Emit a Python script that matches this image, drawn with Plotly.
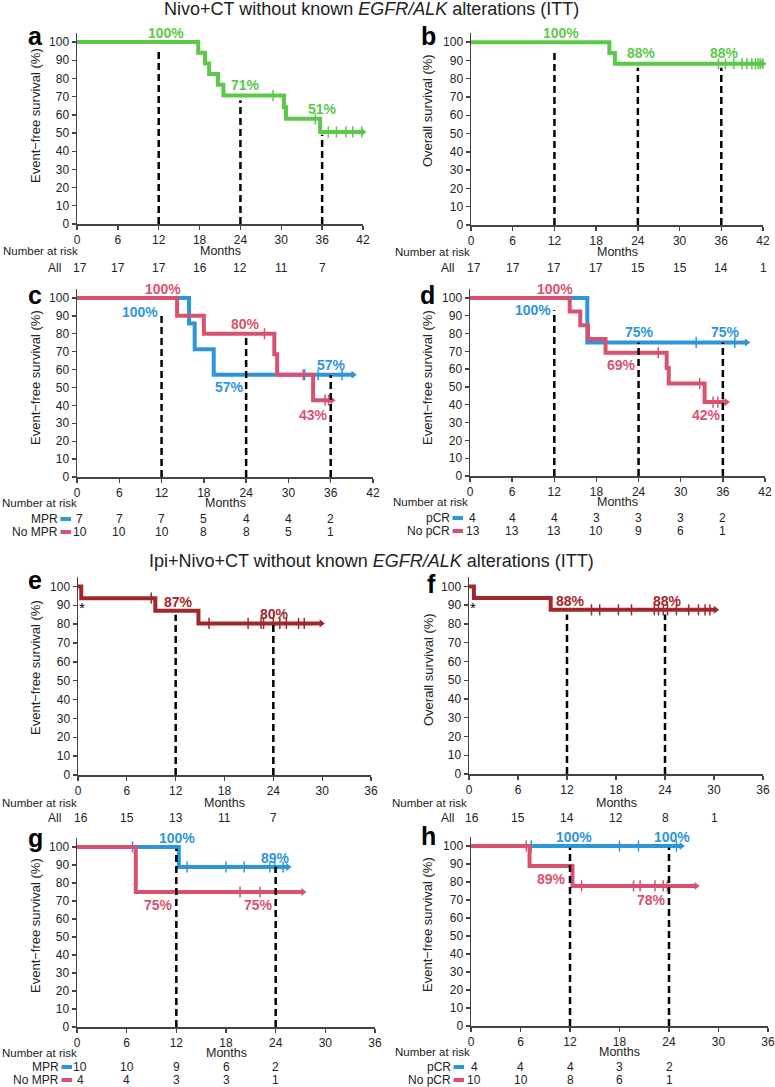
import plotly.graph_objects as go

W, H = 775, 1087
FONT = "Liberation Sans, Arial, sans-serif"
GREEN = "#5cc84a"
BLUE = "#2d95db"
PINK = "#d8526f"
DARKRED = "#a3262b"

# ---------------- data ----------------
# a: Nivo+CT EFS (ITT)
a_times = [0, 17.8, 18.8, 19.4, 20.7, 21.5, 30.4, 30.7, 35.7]
a_surv = [100, 94.1, 88.2, 82.4, 76.5, 70.6, 64.2, 57.8, 50.6]
a_end = 42.0
a_cens = [28.8, 35.0, 36.9, 38.1, 39.5, 40.5, 41.8]
a_risk = [17, 17, 17, 16, 12, 11, 7]

# b: Nivo+CT OS (ITT)
b_times = [0, 19.9, 20.7]
b_surv = [100, 94.1, 88.2]
b_end = 42.0
b_cens = [35.6, 36.6, 37.8, 39.0, 39.7, 40.4, 40.9, 41.3, 41.6, 42.0]
b_risk = [17, 17, 17, 17, 15, 15, 14, 1]

# c: Nivo+CT EFS by MPR
c_mpr_times = [0, 15.9, 16.7, 19.4]
c_mpr_surv = [100, 85.7, 71.4, 57.1]
c_mpr_end = 39.2
c_mpr_cens = [32.3, 34.2, 37.6]
c_nompr_times = [0, 14.2, 18.0, 28.0, 28.4, 33.5]
c_nompr_surv = [100, 90.0, 80.0, 68.6, 57.1, 42.9]
c_nompr_end = 36.2
c_nompr_cens = [26.6, 32.1, 35.2, 35.7]
c_mpr_risk = [7, 7, 7, 5, 4, 4, 2]
c_nompr_risk = [10, 10, 10, 8, 8, 5, 1]

# d: Nivo+CT EFS by pCR
d_pcr_times = [0, 16.7]
d_pcr_surv = [100, 75.0]
d_pcr_end = 39.4
d_pcr_cens = [32.2, 37.7]
d_nopcr_times = [0, 14.2, 15.7, 16.8, 19.3, 28.0, 28.3, 33.4]
d_nopcr_surv = [100, 92.3, 84.6, 76.9, 69.2, 60.6, 51.9, 41.5]
d_nopcr_end = 36.5
d_nopcr_cens = [26.8, 32.7, 34.6, 35.3, 36.0]
d_pcr_risk = [4, 4, 4, 3, 3, 3, 2]
d_nopcr_risk = [13, 13, 13, 10, 9, 6, 1]

# e: Ipi+Nivo+CT EFS (ITT)
e_times = [0, 0.4, 9.5, 14.8]
e_surv = [100, 93.75, 87.05, 80.4]
e_end = 29.9
e_cens = [9.0, 16.1, 20.9, 22.5, 22.8, 24.0, 24.8, 25.6, 27.1, 27.8]
e_risk = [16, 15, 13, 11, 7]

# f: Ipi+Nivo+CT OS (ITT)
f_times = [0, 0.6, 10.0]
f_surv = [100, 93.75, 87.5]
f_end = 30.2
f_cens = [15.0, 16.0, 18.3, 19.9, 22.7, 23.2, 23.8, 24.3, 25.4, 26.9, 28.1, 28.9, 29.5]
f_risk = [16, 15, 14, 12, 8, 1]

# g: Ipi+Nivo+CT EFS by MPR
g_mpr_times = [0, 12.3]
g_mpr_surv = [100, 88.9]
g_mpr_end = 25.5
g_mpr_cens = [6.7, 13.3, 18.0, 20.2, 23.3, 23.9, 24.9]
g_nompr_times = [0, 7.1]
g_nompr_surv = [100, 75.0]
g_nompr_end = 27.3
g_nompr_cens = [19.7, 22.1]
g_mpr_risk = [10, 10, 9, 6, 2]
g_nompr_risk = [4, 4, 3, 3, 1]

# h: Ipi+Nivo+CT EFS by pCR
h_pcr_times = [0]
h_pcr_surv = [100]
h_pcr_end = 25.5
h_pcr_cens = [7.3, 18.0, 20.3, 24.9]
h_nopcr_times = [0, 7.1, 12.3]
h_nopcr_surv = [100, 88.9, 77.8]
h_nopcr_end = 27.3
h_nopcr_cens = [6.7, 13.4, 19.7, 20.5, 22.3, 23.3, 23.8]
h_pcr_risk = [4, 4, 4, 3, 2]
h_nopcr_risk = [10, 10, 8, 6, 1]

# landmark percentages: (text, month, y-position, colour)
a_labels = [("100%", 13.0, 105, GREEN), ("71%", 24.8, 76.5, GREEN), ("51%", 36.1, 63, GREEN)]
b_labels = [("100%", 13.0, 105, GREEN), ("88%", 24.5, 94, GREEN), ("88%", 36.5, 94, GREEN)]
c_labels = [("100%", 12.2, 105, PINK), ("100%", 9.0, 92, BLUE), ("80%", 23.9, 85.5, PINK),
            ("57%", 36.1, 62.5, BLUE), ("57%", 21.6, 50, BLUE), ("43%", 33.5, 34.5, PINK)]
d_labels = [("100%", 12.1, 105, PINK), ("100%", 8.9, 93, BLUE), ("75%", 24.1, 80.7, BLUE),
            ("75%", 36.4, 80.7, BLUE), ("69%", 21.5, 62.5, PINK), ("42%", 33.7, 34, PINK)]
e_labels = [("87%", 12.3, 92, DARKRED), ("80%", 24.2, 85.6, DARKRED)]
f_labels = [("88%", 12.4, 92.3, DARKRED), ("88%", 24.3, 92.3, DARKRED)]
g_labels = [("100%", 12.1, 105, BLUE), ("89%", 24.0, 94, BLUE), ("75%", 9.9, 68, PINK), ("75%", 21.9, 68, PINK)]
h_labels = [("100%", 12.5, 105, BLUE), ("100%", 24.4, 105, BLUE), ("89%", 9.8, 81.5, PINK), ("78%", 21.9, 70, PINK)]

# dashed landmark lines: (month, top)
a_dash = [(12, 96), (24, 68), (36, 49)]
b_dash = [(12, 95), (24, 86), (36, 86)]
c_dash = [(12, 92), (24, 79), (36, 57)]
d_dash = [(12, 93), (24, 75), (36, 75)]
e_dash = [(12, 85), (24, 80)]
f_dash = [(12, 85), (24, 85)]
g_dash = [(12, 99), (24, 89)]
h_dash = [(12, 99), (24, 99)]

# ---------------- layout geometry (pixels in the picture) ----------------
# box = x0, x1, y at 0, y at 105
panels = [
    dict(box=(77, 363, 224, 33), xmax=42, ytitle="Event\u2212free survival (%)", letter="a",
         curves=[(a_times, a_surv, a_end, a_cens, GREEN)], labels=a_labels, dash=a_dash,
         rows=[("All", None, a_risk)], letter_pos=(35, 36), ytitle_pos=(35, 116),
         risk_y=(251, [268]), row_label_x=62, nar_x=2),
    dict(box=(471, 763, 225, 33), xmax=42, ytitle="Overall survival (%)", letter="b",
         curves=[(b_times, b_surv, b_end, b_cens, GREEN)], labels=b_labels, dash=b_dash,
         rows=[("All", None, b_risk)], letter_pos=(428, 36), ytitle_pos=(427, 111),
         risk_y=(252, [268]), row_label_x=455, nar_x=394),
    dict(box=(77, 373, 477, 289), xmax=42, ytitle="Event\u2212free survival (%)", letter="c",
         curves=[(c_mpr_times, c_mpr_surv, c_mpr_end, c_mpr_cens, BLUE),
                 (c_nompr_times, c_nompr_surv, c_nompr_end, c_nompr_cens, PINK)],
         labels=c_labels, dash=c_dash,
         rows=[("MPR", BLUE, c_mpr_risk), ("No MPR", PINK, c_nompr_risk)],
         letter_pos=(35, 295), ytitle_pos=(35, 378), risk_y=(503, [519, 532]), row_label_x=59, nar_x=1),
    dict(box=(470, 765, 476, 289), xmax=42, ytitle="Event\u2212free survival (%)", letter="d",
         curves=[(d_pcr_times, d_pcr_surv, d_pcr_end, d_pcr_cens, BLUE),
                 (d_nopcr_times, d_nopcr_surv, d_nopcr_end, d_nopcr_cens, PINK)],
         labels=d_labels, dash=d_dash,
         rows=[("pCR", BLUE, d_pcr_risk), ("No pCR", PINK, d_nopcr_risk)],
         letter_pos=(427, 295), ytitle_pos=(427, 378), risk_y=(502, [518, 531]), row_label_x=451, nar_x=392),
    dict(box=(78, 371, 775, 577), xmax=36, ytitle="Event\u2212free survival (%)", letter="e",
         curves=[(e_times, e_surv, e_end, e_cens, DARKRED)], labels=e_labels, dash=e_dash,
         rows=[("All", None, e_risk)], letter_pos=(35, 580), ytitle_pos=(35, 668),
         risk_y=(803, [818]), row_label_x=62, nar_x=1, star=True),
    dict(box=(469, 763, 774, 577), xmax=36, ytitle="Overall survival (%)", letter="f",
         curves=[(f_times, f_surv, f_end, f_cens, DARKRED)], labels=f_labels, dash=f_dash,
         rows=[("All", None, f_risk)], letter_pos=(432, 584), ytitle_pos=(428, 670),
         risk_y=(803, [818]), row_label_x=455, nar_x=391, star=True),
    dict(box=(77, 375, 1027, 838), xmax=36, ytitle="Event\u2212free survival (%)", letter="g",
         curves=[(g_mpr_times, g_mpr_surv, g_mpr_end, g_mpr_cens, BLUE),
                 (g_nompr_times, g_nompr_surv, g_nompr_end, g_nompr_cens, PINK)],
         labels=g_labels, dash=g_dash,
         rows=[("MPR", BLUE, g_mpr_risk), ("No MPR", PINK, g_nompr_risk)],
         letter_pos=(35, 838), ytitle_pos=(35, 926), risk_y=(1053, [1067, 1080]), row_label_x=60, nar_x=1),
    dict(box=(471, 768, 1026, 837), xmax=36, ytitle="Event\u2212free survival (%)", letter="h",
         curves=[(h_pcr_times, h_pcr_surv, h_pcr_end, h_pcr_cens, BLUE),
                 (h_nopcr_times, h_nopcr_surv, h_nopcr_end, h_nopcr_cens, PINK)],
         labels=h_labels, dash=h_dash,
         rows=[("pCR", BLUE, h_pcr_risk), ("No pCR", PINK, h_nopcr_risk)],
         letter_pos=(428, 836), ytitle_pos=(427, 925), risk_y=(1052, [1067, 1080]), row_label_x=452, nar_x=394),
]


def pxx(p):
    return p / W


def pxy(p):
    return 1 - p / H


def step_value(times, surv, t):
    v = surv[0]
    for ti, si in zip(times, surv):
        if ti <= t:
            v = si
    return v


def txt(text, x, y, xref, yref, size, color, xanchor="center", yanchor="middle", **kw):
    return dict(text=text, x=x, y=y, xref=xref, yref=yref, showarrow=False, xanchor=xanchor,
                yanchor=yanchor, font=dict(family=FONT, size=size, color=color), **kw)


fig = go.Figure()
annotations = []
shapes = []
layout_axes = {}

for i, p in enumerate(panels):
    n = i + 1
    xs = "" if n == 1 else str(n)
    xref, yref = "x" + xs, "y" + xs
    x0, x1, yb, yt = p["box"]
    xmax = p["xmax"]
    axis_common = dict(showline=True, linecolor="#444", linewidth=1.5, ticks="outside",
                       ticklen=4, tickwidth=1.3, tickcolor="#444", showgrid=False, zeroline=False,
                       automargin=False,
                       tickfont=dict(family=FONT, size=12, color="#222"), fixedrange=True)
    layout_axes["xaxis" + xs] = dict(domain=[pxx(x0), pxx(x1)], range=[0, xmax], anchor=yref,
                                     tickvals=list(range(0, xmax + 1, 6)), **axis_common)
    layout_axes["yaxis" + xs] = dict(domain=[pxy(yb), pxy(yt)], range=[0, 105], anchor=xref,
                                     tickvals=list(range(0, 101, 10)), **axis_common)

    # curves
    for times, surv, end, cens, col in p["curves"]:
        fig.add_trace(go.Scatter(x=list(times) + [end], y=list(surv) + [surv[-1]], mode="lines",
                                 line=dict(color=col, width=4, shape="hv"), xaxis=xref, yaxis=yref,
                                 showlegend=False, hoverinfo="skip", cliponaxis=False))
        fig.add_trace(go.Scatter(x=cens, y=[step_value(times, surv, c) for c in cens], mode="markers",
                                 marker=dict(symbol="line-ns", size=8, line=dict(color=col, width=1.5)),
                                 xaxis=xref, yaxis=yref, showlegend=False, hoverinfo="skip", cliponaxis=False))
        fig.add_trace(go.Scatter(x=[end], y=[surv[-1]], mode="markers",
                                 marker=dict(symbol="triangle-right", size=7, color=col),
                                 xaxis=xref, yaxis=yref, showlegend=False, hoverinfo="skip", cliponaxis=False))
    # dashed landmark lines
    for t, top in p["dash"]:
        fig.add_trace(go.Scatter(x=[t, t], y=[0, top], mode="lines",
                                 line=dict(color="black", width=2.5, dash="7px,4px"),
                                 xaxis=xref, yaxis=yref, showlegend=False, hoverinfo="skip", cliponaxis=False))
    # percentage labels
    for lab, t, yv, col in p["labels"]:
        annotations.append(txt("<b>%s</b>" % lab, t, yv, xref, yref, 14, col))
    if p.get("star"):
        annotations.append(txt("*", 0.5, 89, xref, yref, 15, "black"))
    # panel letter
    lx, ly = p["letter_pos"]
    annotations.append(txt("<b>%s</b>" % p["letter"], pxx(lx), pxy(ly), "paper", "paper", 25, "black"))
    # y title
    tx, ty = p["ytitle_pos"]
    annotations.append(txt(p["ytitle"], pxx(tx), pxy(ty), "paper", "paper", 13, "#222", textangle=-90))
    # Months + Number at risk
    my, row_ys = p["risk_y"]
    annotations.append(txt("Months", xmax / 2, pxy(my), xref, "paper", 12.5, "#222", borderpad=0))
    annotations.append(txt("Number at risk", pxx(p["nar_x"]), pxy(my), "paper", "paper", 11.5, "#222",
                           xanchor="left", borderpad=0))
    for (lab, col, risk), ry in zip(p["rows"], row_ys):
        lx_r = p["row_label_x"]
        annotations.append(txt(lab, pxx(lx_r), pxy(ry), "paper", "paper", 12, "#222", xanchor="right",
                               borderpad=0))
        if col is not None:
            shapes.append(dict(type="line", xref="paper", yref="paper", x0=pxx(lx_r + 1.5), x1=pxx(lx_r + 12),
                               y0=pxy(ry), y1=pxy(ry), line=dict(color=col, width=4)))
        for k, v in enumerate(risk):
            annotations.append(txt(str(v), 6 * k + (0.4 if k == 0 else 0), pxy(ry), xref, "paper", 12, "#222",
                                   borderpad=0))

# section titles
annotations.append(txt("Nivo+CT without known <i>EGFR/ALK</i> alterations (ITT)", pxx(371), pxy(9),
                       "paper", "paper", 18, "#222"))
annotations.append(txt("Ipi+Nivo+CT without known <i>EGFR/ALK</i> alterations (ITT)", pxx(371), pxy(561),
                       "paper", "paper", 18, "#222"))

fig.update_layout(width=W, height=H, margin=dict(l=0, r=0, t=0, b=0), plot_bgcolor="white",
                  paper_bgcolor="white", annotations=annotations, shapes=shapes, showlegend=False,
                  font=dict(family=FONT), **layout_axes)

# remove the default page margin so that the figure fills the window exactly
fig.write_html("out.html", config={"displayModeBar": False, "staticPlot": True},
               post_script="document.body.style.margin='0px';document.body.style.overflow='hidden';")
